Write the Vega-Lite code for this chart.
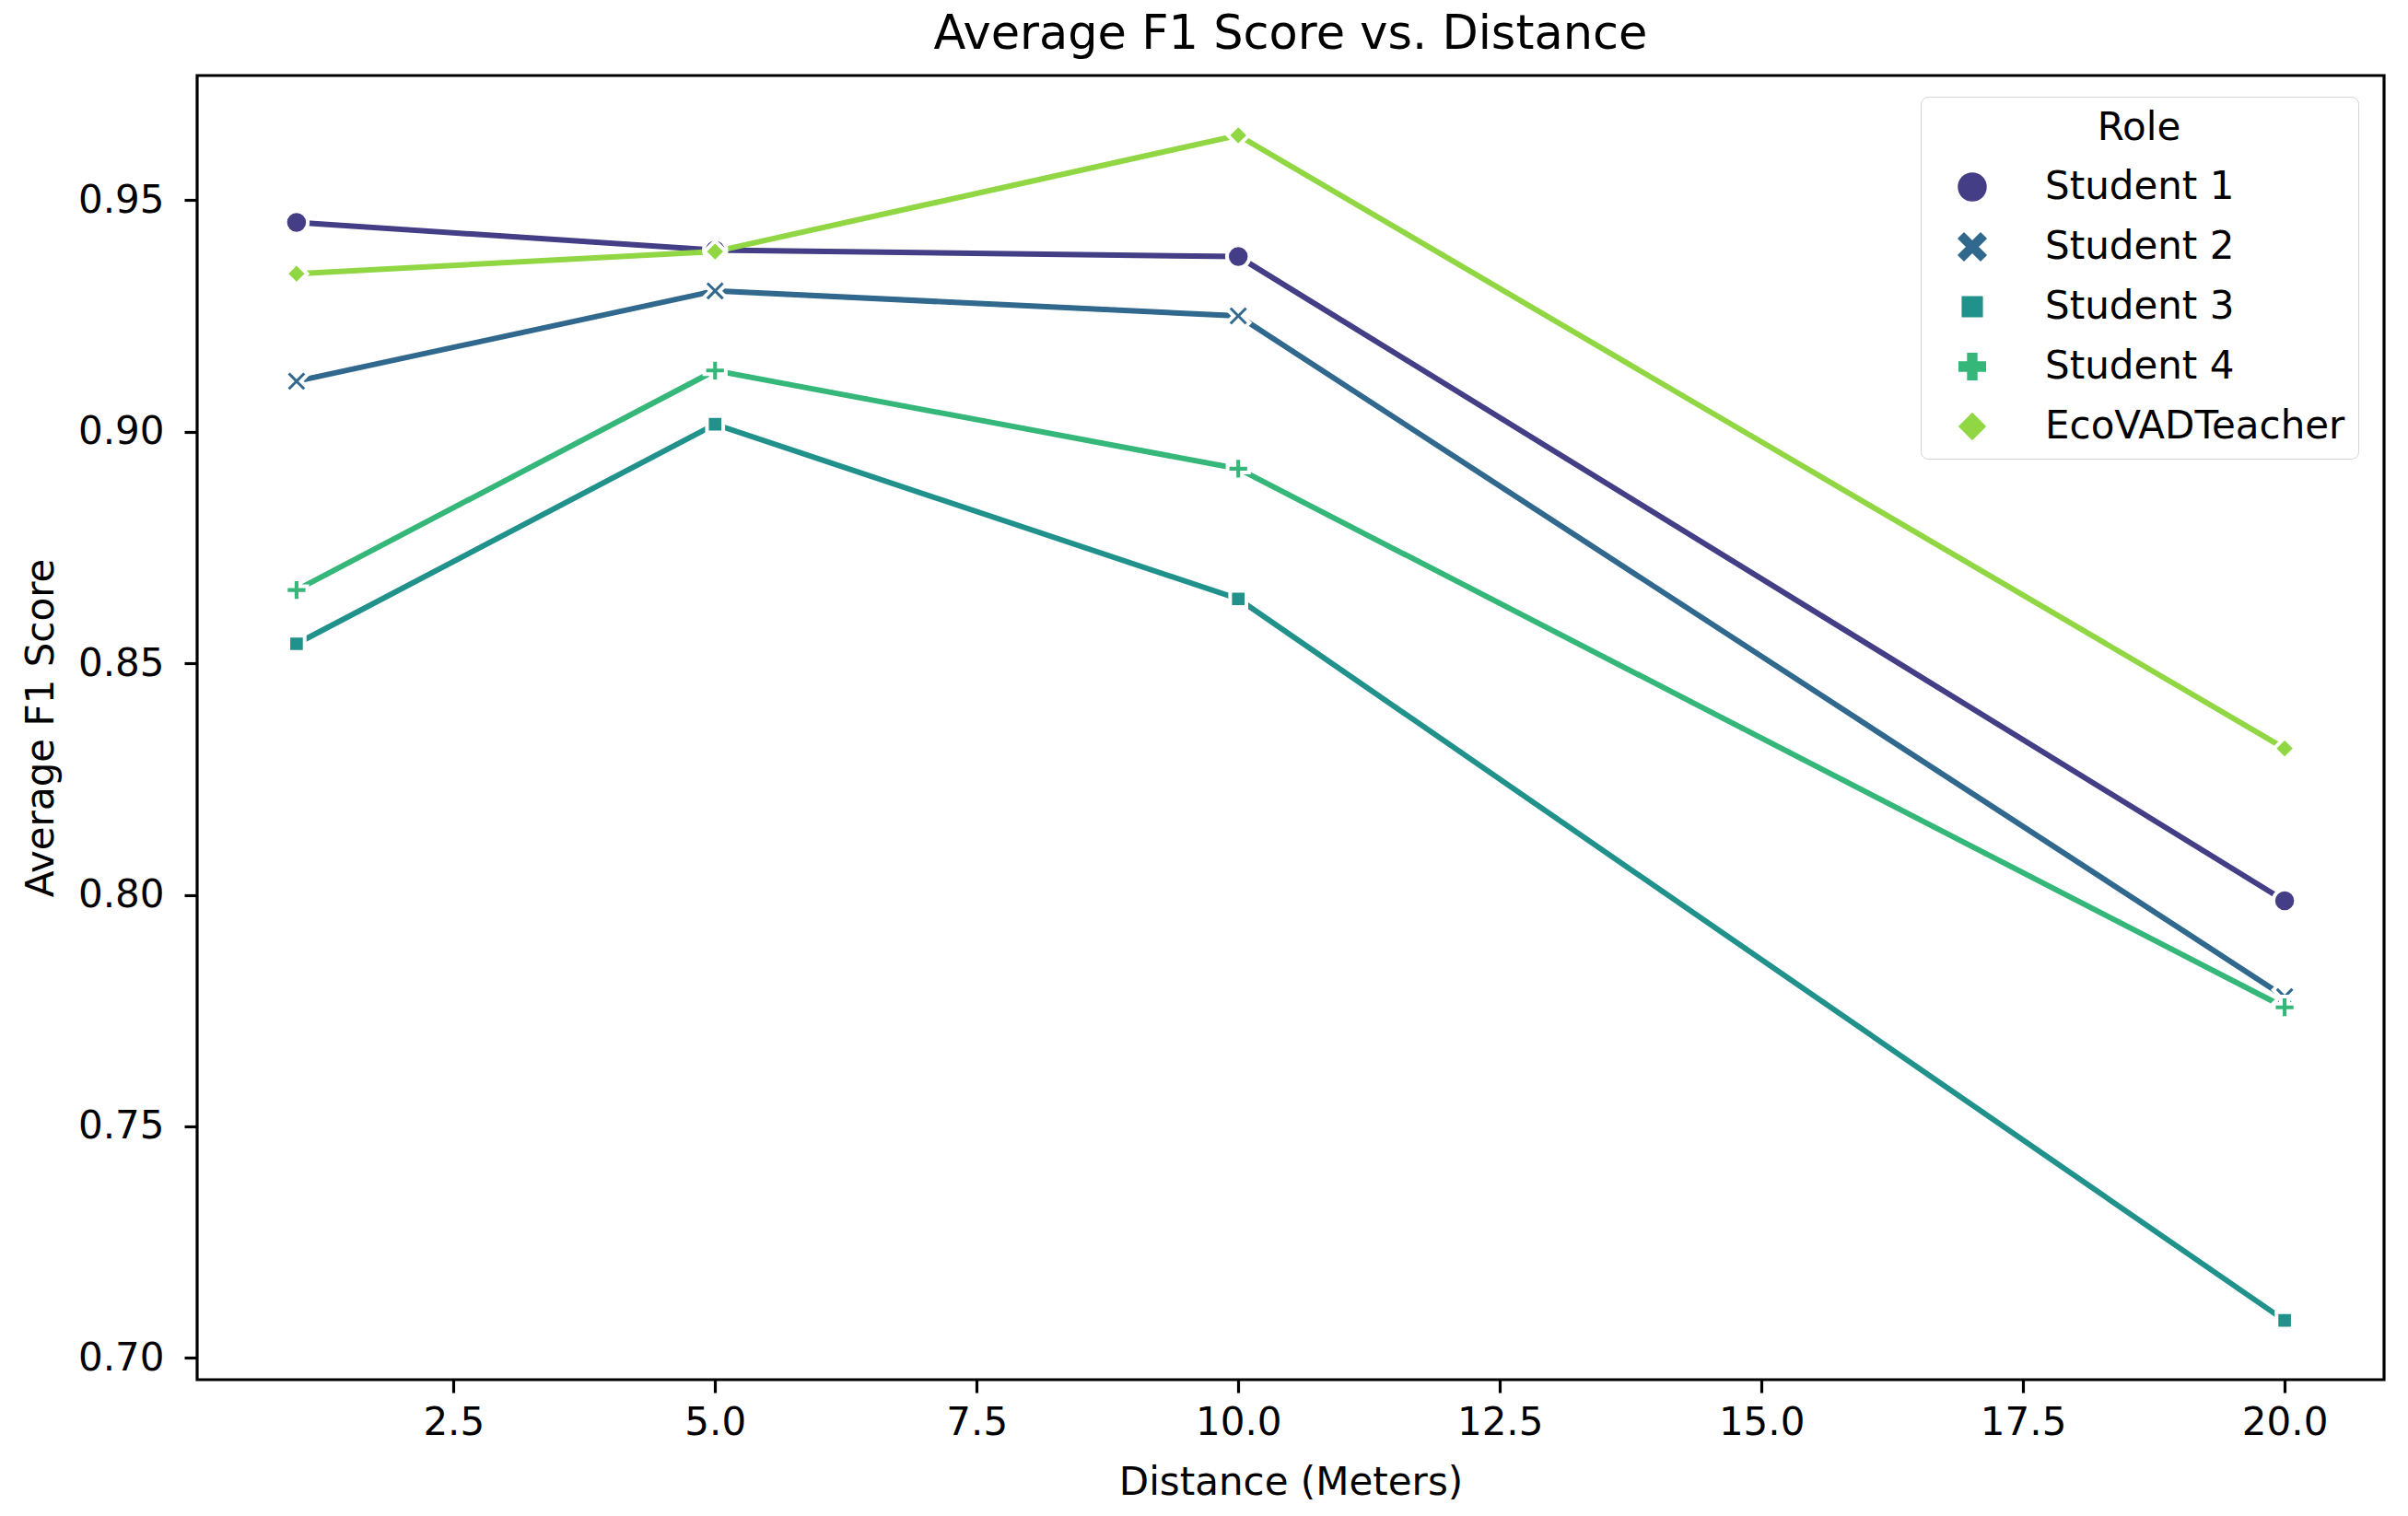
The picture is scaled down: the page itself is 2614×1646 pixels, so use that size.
{
  "$schema": "https://vega.github.io/schema/vega-lite/v6.json",
  "width": 2374,
  "height": 1416,
  "autosize": {"type": "none"},
  "padding": {"left": 214, "top": 82, "right": 26, "bottom": 148},
  "background": "white",
  "title": {"text": "Average F1 Score vs. Distance", "fontSize": 51, "font": "DejaVu Sans", "fontWeight": "normal", "color": "black", "anchor": "middle", "offset": 18},
  "config": {
    "view": {"stroke": "black", "strokeWidth": 3.2},
    "axis": {"grid": false, "domain": false, "tickColor": "black", "tickWidth": 3.2, "tickSize": 14, "labelFont": "DejaVu Sans", "labelFontSize": 42, "labelColor": "black", "titleFont": "DejaVu Sans", "titleFontSize": 42, "titleFontWeight": "normal", "titleColor": "black"},
    "legend": {"labelFont": "DejaVu Sans", "titleFont": "DejaVu Sans"}
  },
  "data": {"values": [
    {"Role": "Student 1", "Distance": 1, "F1": 0.9452},
    {"Role": "Student 1", "Distance": 5, "F1": 0.9392},
    {"Role": "Student 1", "Distance": 10, "F1": 0.9378},
    {"Role": "Student 1", "Distance": 20, "F1": 0.7987},
    {"Role": "Student 2", "Distance": 1, "F1": 0.9109},
    {"Role": "Student 2", "Distance": 5, "F1": 0.9304},
    {"Role": "Student 2", "Distance": 10, "F1": 0.9250},
    {"Role": "Student 2", "Distance": 20, "F1": 0.7780},
    {"Role": "Student 3", "Distance": 1, "F1": 0.8542},
    {"Role": "Student 3", "Distance": 5, "F1": 0.9016},
    {"Role": "Student 3", "Distance": 10, "F1": 0.8639},
    {"Role": "Student 3", "Distance": 20, "F1": 0.7081},
    {"Role": "Student 4", "Distance": 1, "F1": 0.8658},
    {"Role": "Student 4", "Distance": 5, "F1": 0.9132},
    {"Role": "Student 4", "Distance": 10, "F1": 0.8920},
    {"Role": "Student 4", "Distance": 20, "F1": 0.7757},
    {"Role": "EcoVADTeacher", "Distance": 1, "F1": 0.9341},
    {"Role": "EcoVADTeacher", "Distance": 5, "F1": 0.9389},
    {"Role": "EcoVADTeacher", "Distance": 10, "F1": 0.9640},
    {"Role": "EcoVADTeacher", "Distance": 20, "F1": 0.8316}
  ]},
  "layer": [
    {
      "mark": {"type": "line", "strokeWidth": 6},
      "encoding": {
        "x": {"field": "Distance", "type": "quantitative", "title": "Distance (Meters)",
          "scale": {"domain": [0.05, 20.95], "nice": false, "zero": false},
          "axis": {"values": [2.5, 5, 7.5, 10, 12.5, 15, 17.5, 20], "format": ".1f", "labelPadding": 12, "titlePadding": 24}},
        "y": {"field": "F1", "type": "quantitative", "title": "Average F1 Score",
          "scale": {"domain": [0.6953, 0.9769], "nice": false, "zero": false},
          "axis": {"values": [0.70, 0.75, 0.80, 0.85, 0.90, 0.95], "format": ".2f", "labelPadding": 22, "titlePadding": 18}},
        "color": {"field": "Role", "type": "nominal", "title": "Role",
          "scale": {"domain": ["Student 1", "Student 2", "Student 3", "Student 4", "EcoVADTeacher"], "range": ["#433e85", "#31688e", "#21918c", "#35b779", "#90d743"]}}
      }
    },
    {
      "mark": {"type": "point", "filled": true, "size": 600, "stroke": "white", "strokeWidth": 4, "opacity": 1},
      "encoding": {
        "x": {"field": "Distance", "type": "quantitative"},
        "y": {"field": "F1", "type": "quantitative"},
        "color": {"field": "Role", "type": "nominal", "title": "Role"},
        "shape": {"field": "Role", "type": "nominal", "title": "Role",
          "scale": {"domain": ["Student 1", "Student 2", "Student 3", "Student 4", "EcoVADTeacher"],
            "range": ["circle",
              "M-1,-0.6L-0.6,-1L0,-0.4L0.6,-1L1,-0.6L0.4,0L1,0.6L0.6,1L0,0.4L-0.6,1L-1,0.6L-0.4,0Z",
              "M-0.72,-0.72H0.72V0.72H-0.72Z",
              "M-0.33,-0.95H0.33V-0.33H0.95V0.33H0.33V0.95H-0.33V0.33H-0.95V-0.33H-0.33Z",
              "M0,-0.94L0.94,0L0,0.94L-0.94,0Z"]},
          "legend": {
            "orient": "none", "legendX": 1871, "legendY": 23,
            "titleFontSize": 42, "titleFontWeight": "normal", "titleColor": "black", "titleAnchor": "middle", "titlePadding": 21,
            "labelFontSize": 42, "labelColor": "black", "labelOffset": 58, "labelLimit": 800,
            "symbolSize": 900, "symbolOffset": 21, "rowPadding": 23,
            "padding": 14, "cornerRadius": 8, "strokeColor": "#d4d4d4", "fillColor": "rgba(255,255,255,0.8)",
            "encode": {
              "legend": {"strokeWidth": {"value": 3}}
            }
          }
        }
      }
    }
  ]
}
